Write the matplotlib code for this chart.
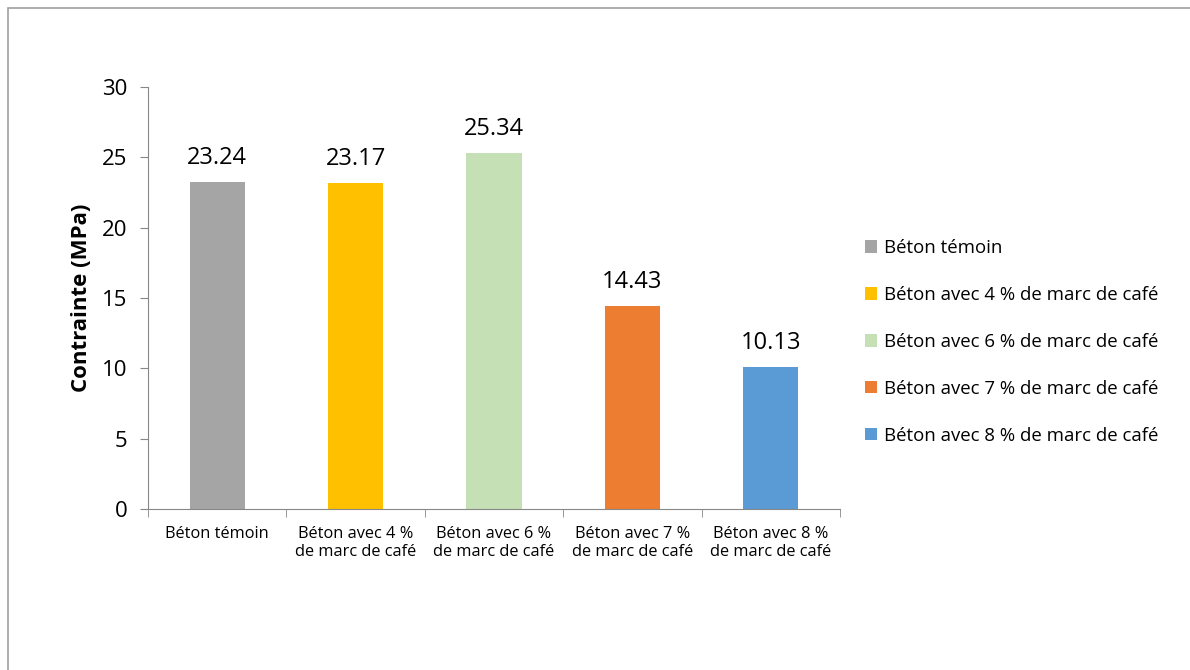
import matplotlib
matplotlib.use("Agg")
import matplotlib.pyplot as plt
from matplotlib.patches import Rectangle
import numpy as np

plt.rcParams["font.family"] = ["Open Sans", "DejaVu Sans"]

categories = [
    "Béton témoin",
    "Béton avec 4 %\nde marc de café",
    "Béton avec 6 %\nde marc de café",
    "Béton avec 7 %\nde marc de café",
    "Béton avec 8 %\nde marc de café",
]
legend_labels = [
    "Béton témoin",
    "Béton avec 4 % de marc de café",
    "Béton avec 6 % de marc de café",
    "Béton avec 7 % de marc de café",
    "Béton avec 8 % de marc de café",
]
values = [23.24, 23.17, 25.34, 14.43, 10.13]
colors = ["#a5a5a5", "#ffc000", "#c5e0b4", "#ed7d31", "#5b9bd5"]

fig = plt.figure(figsize=(11.9, 6.7), dpi=100)
# outer chart border (only top and left visible in the reference)
fig.patches.append(Rectangle((8 / 1190, -0.1), 1.2, 1 - 8 / 670 + 0.1,
                             transform=fig.transFigure, fill=False,
                             edgecolor="#a0a0a0", linewidth=1.2))

ax = fig.add_axes([148 / 1190, 1 - 509 / 670, 692 / 1190, 422 / 670])
x = np.arange(len(values))
bars = ax.bar(x, values, width=0.4, color=colors, label=legend_labels)

for xi, v in zip(x, values):
    ax.text(xi, v + 0.85, f"{v:.2f}", ha="center", va="bottom", fontsize=17)

ax.set_xlim(-0.5, len(values) - 0.5)
ax.set_ylim(0, 30)
ax.set_yticks(range(0, 31, 5))
ax.tick_params(axis="y", labelsize=16, length=6, color="#888888", pad=9)
ax.set_xticks(x)
ax.set_xticklabels(categories, fontsize=11.8)
ax.tick_params(axis="x", length=0, pad=12)
ax.set_xticks(np.arange(-0.5, len(values), 1), minor=True)
ax.tick_params(axis="x", which="minor", length=6, color="#888888")

for side in ["top", "right"]:
    ax.spines[side].set_visible(False)
for side in ["left", "bottom"]:
    ax.spines[side].set_color("#888888")

ax.set_ylabel("Contrainte (MPa)", fontsize=16, fontweight="bold", labelpad=7)

ax.legend(handles=bars, labels=legend_labels, loc="center left",
          bbox_to_anchor=(1.025, 0.396), frameon=False, fontsize=13.4,
          handlelength=0.65, handleheight=0.65, handletextpad=0.4,
          labelspacing=1.55, borderaxespad=0)

fig.savefig("out.png", dpi=100)
